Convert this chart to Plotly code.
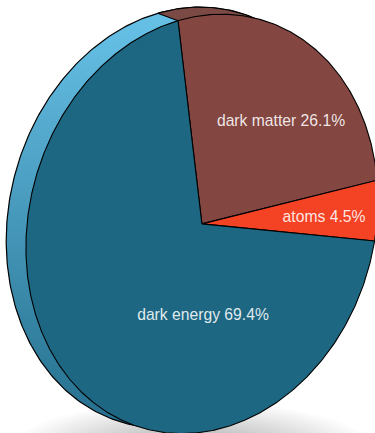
import numpy as np
import plotly.graph_objects as go

# Cosmic energy budget, percent of total
labels = ["dark matter", "atoms", "dark energy"]
shares = [26.1, 4.5, 69.4]
colors = ["#844641", "#F44324", "#1E6782"]
label_x = [281, 324, 203]
label_y = [122.5, 218.5, 316]

W, H = 375, 433
FRONT = dict(cx=201.9, cy=223.9, sx=176.0, sy=209.7, cov=-4174.7)
BACK = dict(cx=180.6, cy=217.5, sx=174.4, sy=210.4, cov=-4092.6)
HUB = (FRONT["cx"], FRONT["cy"])
START_DEG = -6.63        # clockwise from 12 o'clock
TILT_DEG, TILT_PHASE = 3.18, -28.2   # foreshortening of the tilted disc
RIM_SHIFT = 0.3


def rim(e, clock_deg):
    """Point(s) on a sheared ellipse, angle given clockwise from the top."""
    t = np.radians(np.asarray(clock_deg, float) - 90)
    k = e["cov"] / e["sx"]
    s = np.sqrt(e["sy"] ** 2 - k ** 2)
    return e["cx"] + e["sx"] * np.cos(t), e["cy"] + k * np.cos(t) + s * np.sin(t)


def tilt(theta):
    return theta - TILT_DEG * np.sin(np.radians(theta - TILT_PHASE))


fig = go.Figure()

# soft contact shadow under the disc
for i in range(30):
    f = 1 - i / 30
    sh = dict(cx=192, cy=455, sx=172 * f + 14, sy=50 * f + 4, cov=0.0)
    xs, ys = rim(sh, np.linspace(0, 360, 121))
    fig.add_trace(go.Scatter(x=xs, y=ys, mode="lines", fill="toself", line_width=0,
                             fillcolor="rgba(50,55,65,0.014)", hoverinfo="skip"))

# disc edge seen behind the front face
xs, ys = rim(BACK, np.linspace(0, 360, 361))
fig.add_trace(go.Scatter(
    x=xs, y=ys, mode="lines", fill="toself",
    line=dict(color="#000000", width=1.2),
    fillgradient=dict(type="vertical", start=20, stop=420,
                      colorscale=[[0, "#66C0E6"], [1, "#26708E"]]),
    hoverinfo="skip"))

# brown part of the edge, behind the dark matter slice
a0 = tilt(START_DEG)
arc = np.linspace(a0 + RIM_SHIFT, 50, 80)
bx, by = rim(BACK, arc)
fx, fy = rim(FRONT, a0)
fig.add_trace(go.Scatter(
    x=np.r_[fx, bx, fx], y=np.r_[fy, by, fy], mode="lines", fill="toself",
    line=dict(color="#000000", width=1.1), fillcolor="#7C4A44", hoverinfo="skip"))

# the three slices on the front face, sized by their shares
theta = START_DEG
for share, color in zip(shares, colors):
    sweep = share * 3.6
    arc = tilt(np.linspace(theta, theta + sweep, max(int(sweep * 2), 8)))
    ax, ay = rim(FRONT, arc)
    fig.add_trace(go.Scatter(
        x=np.r_[HUB[0], ax, HUB[0]], y=np.r_[HUB[1], ay, HUB[1]],
        mode="lines", fill="toself", fillcolor=color,
        line=dict(color="#000000", width=1.1), hoverinfo="skip"))
    theta += sweep

for name, share, lx, ly in zip(labels, shares, label_x, label_y):
    fig.add_trace(go.Scatter(
        x=[lx], y=[ly], mode="text", text=[f"{name} {share}%"],
        textposition="middle center",
        textfont=dict(family="Liberation Sans", size=15.7, color="rgba(255,255,255,0.88)"),
        hoverinfo="skip"))

fig.update_layout(
    width=W, height=H, margin=dict(l=0, r=0, t=0, b=0), showlegend=False,
    paper_bgcolor="#ffffff", plot_bgcolor="#ffffff",
    xaxis=dict(range=[0, W], visible=False, fixedrange=True),
    yaxis=dict(range=[H, 0], visible=False, fixedrange=True),
)
fig.write_html("out.html", config={"displayModeBar": False})
